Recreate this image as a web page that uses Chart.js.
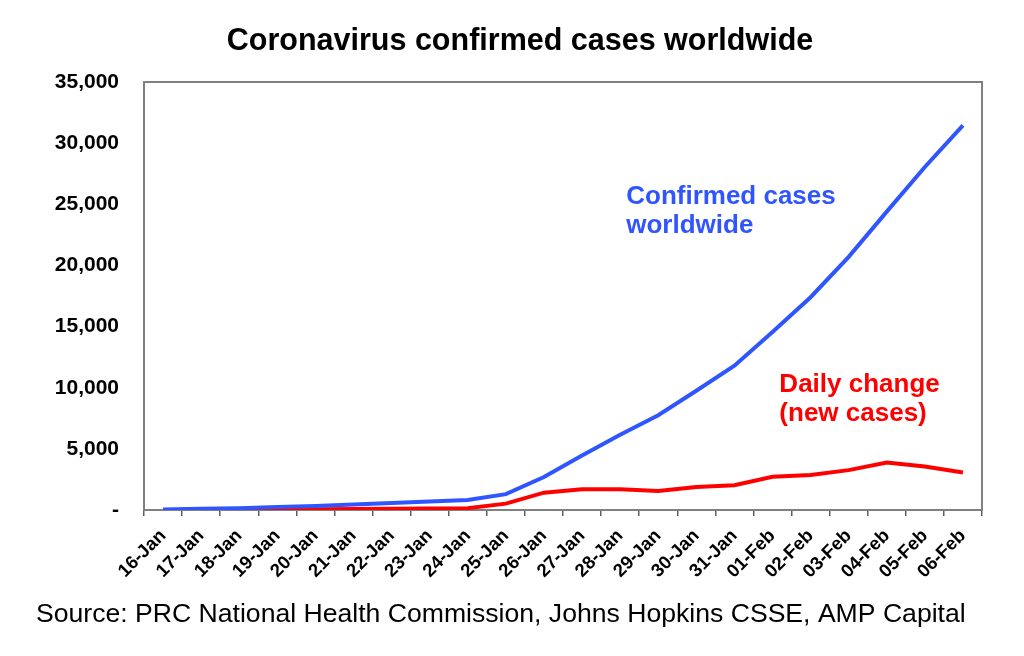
<!DOCTYPE html>
<html>
<head>
<meta charset="utf-8">
<title>Coronavirus confirmed cases worldwide</title>
<script src="https://cdn.jsdelivr.net/npm/chart.js@4.4.1/dist/chart.umd.min.js"></script>
<style>
  html, body { margin: 0; padding: 0; background: #ffffff; }
  canvas { display: block; }
</style>
</head>
<body>
<canvas id="casesChart" width="1024" height="656"></canvas>
<script>
// Chart data
const days = ["16-Jan", "17-Jan", "18-Jan", "19-Jan", "20-Jan", "21-Jan", "22-Jan", "23-Jan", "24-Jan", "25-Jan", "26-Jan",
  "27-Jan", "28-Jan", "29-Jan", "30-Jan", "31-Jan", "01-Feb", "02-Feb", "03-Feb", "04-Feb", "05-Feb", "06-Feb"];
const confirmedCases = [50, 100, 150, 250, 330, 450, 570, 700, 820, 1300, 2700,
  4450, 6150, 7750, 9750, 11800, 14550, 17400, 20700, 24400, 28050, 31450];
const newCases = [null, 20, 40, 55, 70, 90, 110, 130, 150, 520, 1420,
  1700, 1700, 1560, 1890, 2030, 2710, 2870, 3260, 3890, 3560, 3070];
const yTicks = [0, 5000, 10000, 15000, 20000, 25000, 30000, 35000];

const FONT = "'Liberation Sans', Arial, Helvetica, sans-serif";
const BLUE = '#2f55ff';
const RED = '#ff0000';

// Frame, title, source and series labels
const decorations = {
  id: 'decorations',
  beforeDatasetsDraw(chart) {
    const { ctx, chartArea: a } = chart;
    ctx.save();
    ctx.strokeStyle = '#808080';
    ctx.lineWidth = 2;
    ctx.strokeRect(a.left, a.top, a.right - a.left, a.bottom - a.top);
    ctx.restore();
  },
  afterDatasetsDraw(chart) {
    const { ctx } = chart;
    const x = chart.scales.x;
    const y = chart.scales.y;
    ctx.save();
    ctx.textBaseline = 'alphabetic';

    ctx.fillStyle = '#000000';
    ctx.font = 'bold 30.5px ' + FONT;
    ctx.textAlign = 'center';
    ctx.fillText('Coronavirus confirmed cases worldwide', 520, 50);

    ctx.font = '26.6px ' + FONT;
    ctx.textAlign = 'left';
    ctx.fillText('Source: PRC National Health Commission, Johns Hopkins CSSE, AMP Capital', 36, 622);

    ctx.font = 'bold 26px ' + FONT;
    ctx.fillStyle = BLUE;
    let lx = x.getPixelForValue(12.16);
    let ly = y.getPixelForValue(25000);
    ctx.fillText('Confirmed cases', lx, ly);
    ctx.fillText('worldwide', lx, ly + 29);

    ctx.fillStyle = RED;
    lx = x.getPixelForValue(16.18);
    ly = y.getPixelForValue(9650);
    ctx.fillText('Daily change', lx, ly);
    ctx.fillText('(new cases)', lx, ly + 29);
    ctx.restore();
  }
};

document.addEventListener('DOMContentLoaded', function() {
  const ctx = document.getElementById('casesChart').getContext('2d');
  new Chart(ctx, {
    type: 'line',
    data: {
      labels: days,
      datasets: [{
        label: 'Confirmed cases worldwide',
        data: confirmedCases,
        borderColor: BLUE,
        borderWidth: 4,
        pointRadius: 0,
        tension: 0,
        fill: false
      }, {
        label: 'Daily change (new cases)',
        data: newCases,
        borderColor: RED,
        borderWidth: 4,
        pointRadius: 0,
        tension: 0,
        fill: false
      }]
    },
    options: {
      responsive: false,
      animation: false,
      layout: {
        padding: { top: 82, right: 42, bottom: 0, left: 0 }
      },
      plugins: {
        legend: { display: false },
        title: { display: false },
        tooltip: { enabled: false }
      },
      scales: {
        x: {
          type: 'category',
          offset: true,
          afterFit(scale) { scale.height = 146; },
          border: { display: false },
          grid: {
            offset: true,
            drawOnChartArea: false,
            drawTicks: true,
            tickLength: 6,
            color: '#606060',
            lineWidth: 1.5
          },
          ticks: {
            autoSkip: false,
            minRotation: 45,
            maxRotation: 45,
            padding: 9,
            color: '#000000',
            font: { family: FONT, size: 18.5, weight: 'bold' }
          }
        },
        y: {
          min: 0,
          max: 35000,
          afterFit(scale) { scale.width = 144; },
          afterBuildTicks(scale) {
            scale.ticks = yTicks.map(v => ({ value: v }));
          },
          border: { display: false },
          grid: { display: false, drawTicks: false },
          ticks: {
            padding: 25,
            color: '#000000',
            font: { family: FONT, size: 21, weight: 'bold' },
            callback: v => v === 0 ? '-' : v.toLocaleString('en-US')
          }
        }
      }
    },
    plugins: [decorations]
  });
});
</script>
</body>
</html>
